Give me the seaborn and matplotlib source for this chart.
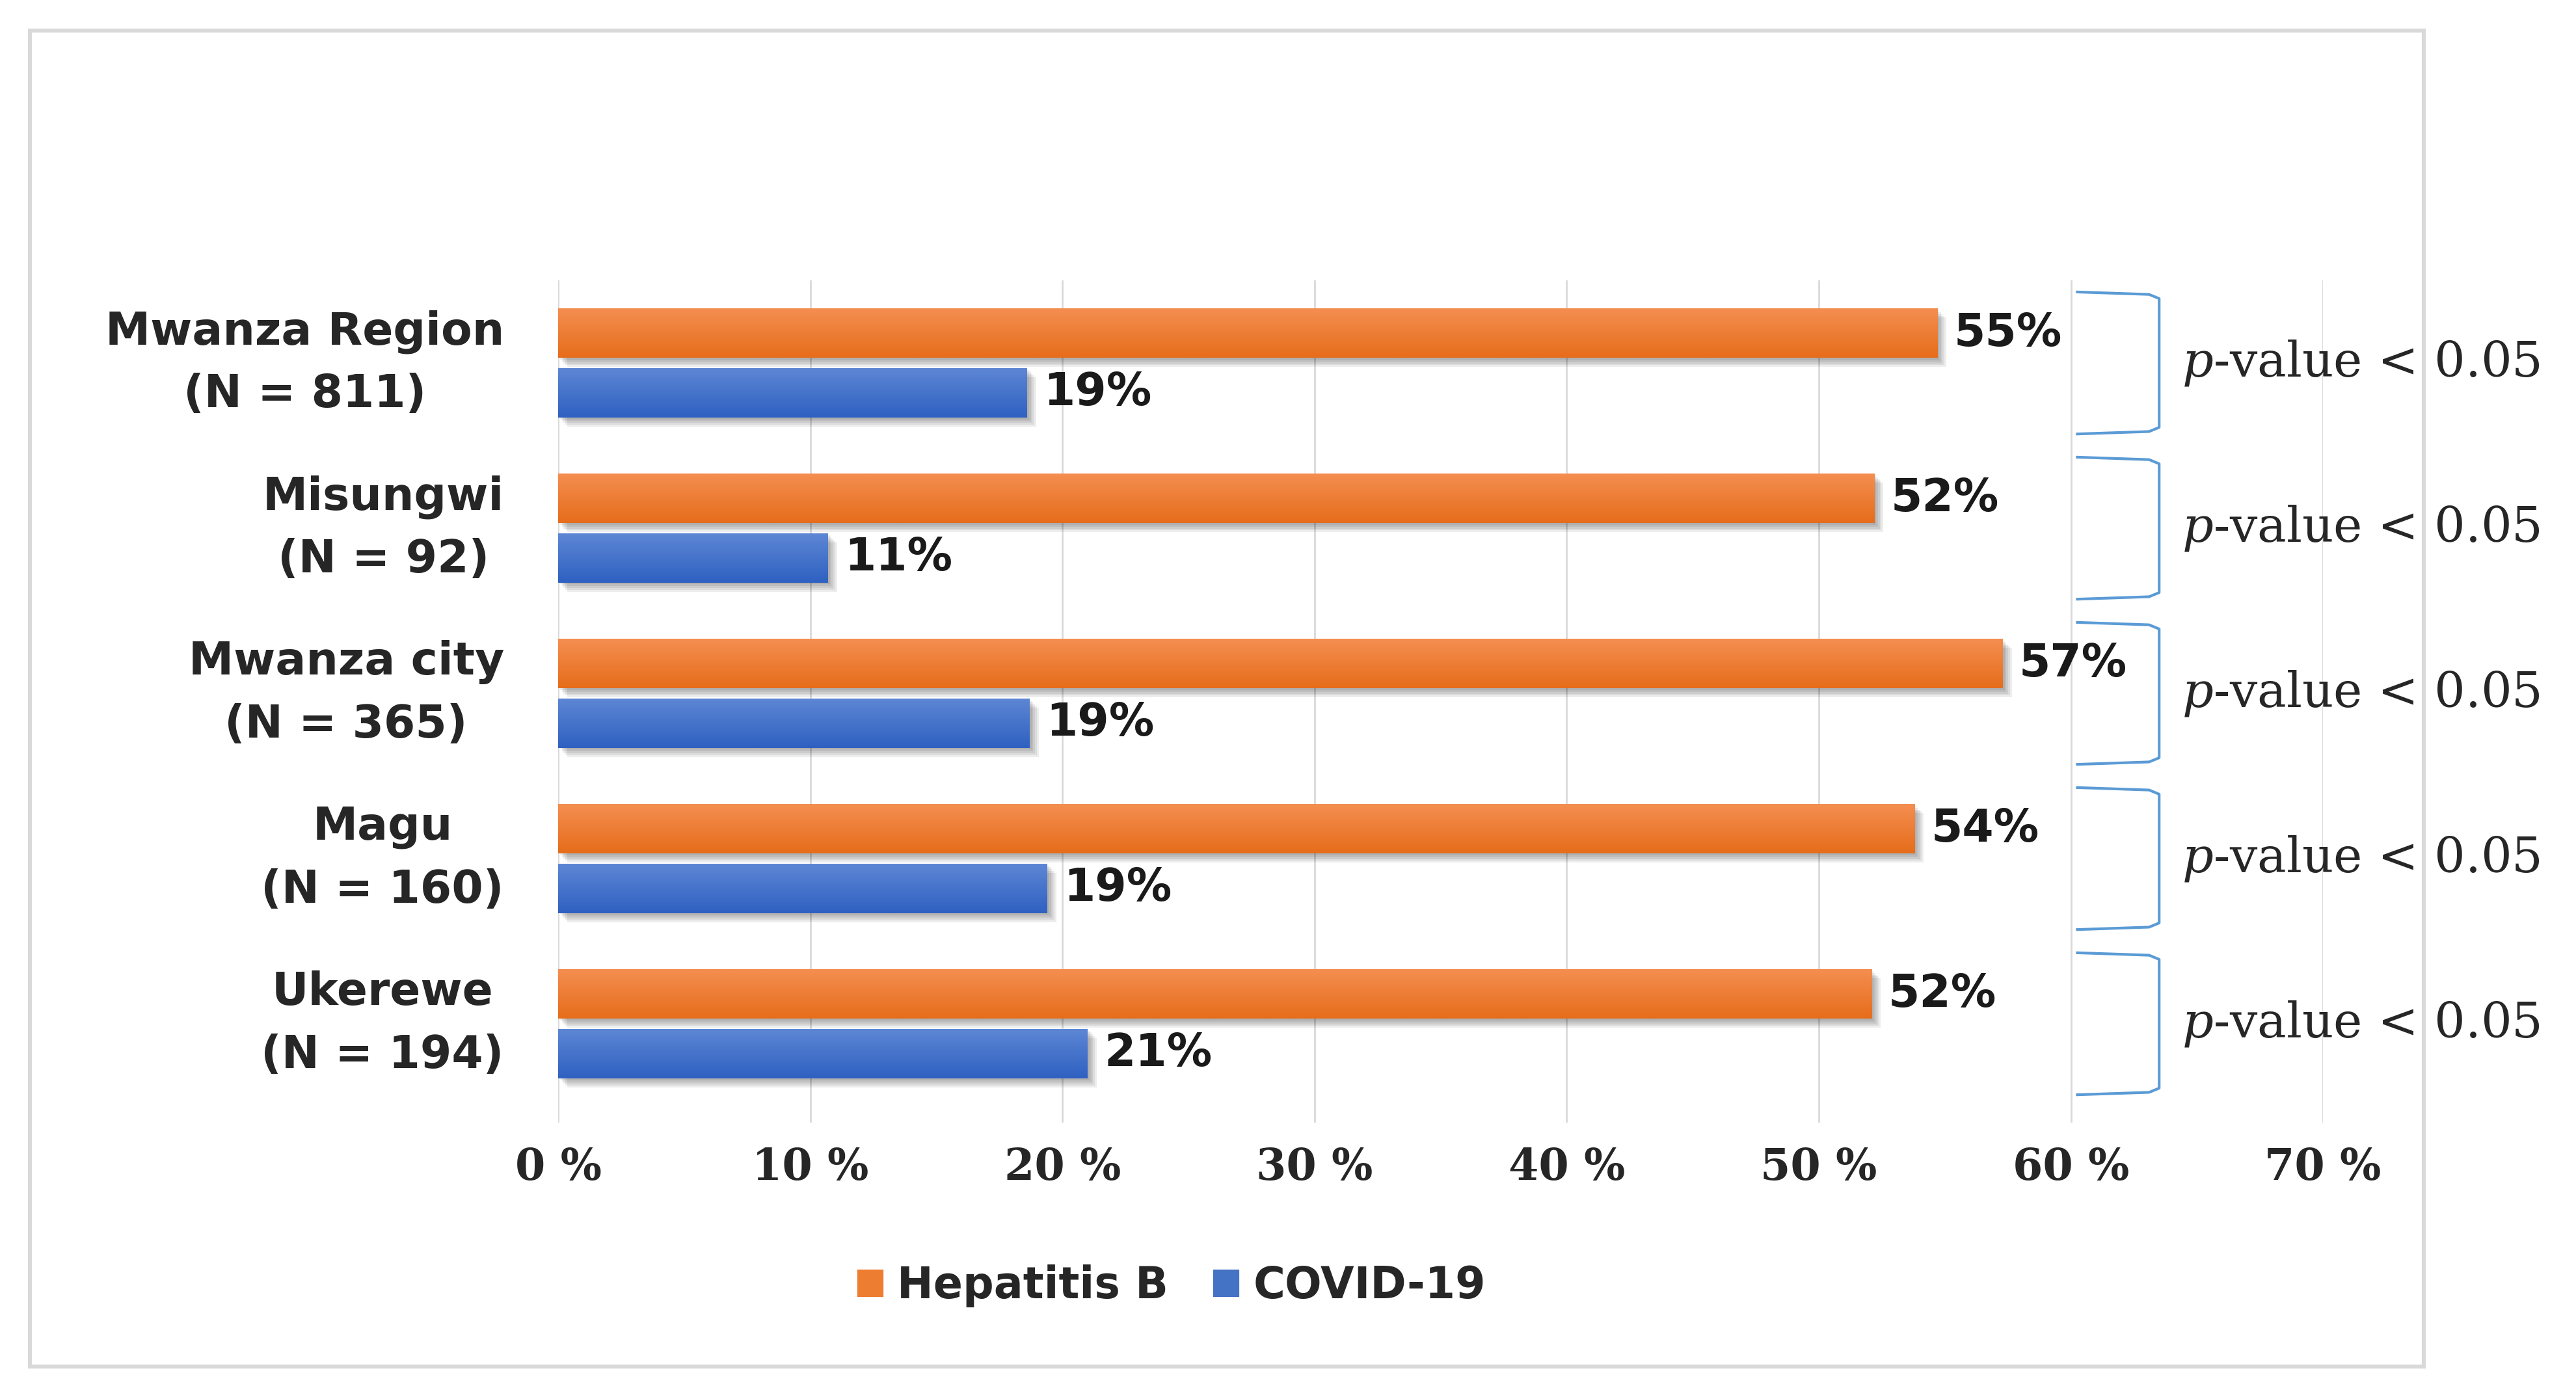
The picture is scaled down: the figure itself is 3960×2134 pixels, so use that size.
import numpy as np
import pandas as pd
import matplotlib
matplotlib.use("Agg")
import matplotlib.pyplot as plt
import matplotlib.patheffects as pe
from matplotlib.patches import Rectangle, PathPatch, Patch
from matplotlib.path import Path
from matplotlib.colors import LinearSegmentedColormap
import seaborn as sns

# values (bar lengths, labels are rounded)
areas = ["Mwanza Region\n(N = 811)", "Misungwi\n(N = 92)", "Mwanza city\n(N = 365)",
         "Magu\n(N = 160)", "Ukerewe\n(N = 194)"]
hepatitis_b = [54.7, 52.2, 57.3, 53.8, 52.1]
covid_19 = [18.6, 10.7, 18.7, 19.4, 21.0]
series = ["Hepatitis B", "COVID-19"]
xticks = [0, 10, 20, 30, 40, 50, 60, 70]
p_text = r"$p$-value < 0.05"

df = pd.DataFrame({
    "area": areas * 2,
    "value": hepatitis_b + covid_19,
    "disease": [series[0]] * len(areas) + [series[1]] * len(areas),
})

orange = "#ED7D31"
blue = "#4472C4"
grad = {
    series[0]: LinearSegmentedColormap.from_list("o", ["#F48E50", "#E66D1B"]),
    series[1]: LinearSegmentedColormap.from_list("b", ["#5D86D4", "#2F61C2"]),
}

sns.set_style("white")
plt.rcParams["font.family"] = ["DejaVu Sans"]
plt.rcParams["mathtext.fontset"] = "dejavuserif"

fig = plt.figure(figsize=(19.8, 10.67), dpi=200)
ax = fig.add_axes([0.2167, 0.191, 0.9018 - 0.2167, 0.798 - 0.191])

sns.barplot(data=df, y="area", x="value", hue="disease", orient="h",
            palette=[orange, blue], width=0.72, gap=0.17, ax=ax, legend=False,
            zorder=3)

# soft drop shadow under the bars
shadow = [pe.SimplePatchShadow(offset=(k, -k), shadow_rgbFace="k", alpha=0.07)
          for k in (1, 2, 3, 4, 5)] + [pe.Normal()]
for name, cont in zip(series, ax.containers):
    for bar in cont:
        bar.set_path_effects(shadow)
        bar.set_edgecolor("none")
        x0, y0 = bar.get_x(), bar.get_y()
        w, h = bar.get_width(), bar.get_height()
        g = np.linspace(0, 1, 64).reshape(-1, 1)
        im = ax.imshow(g, cmap=grad[name], aspect="auto",
                       extent=[x0, x0 + w, y0 + h, y0], origin="upper", zorder=4)
        im.set_clip_path(bar)
    vals = [b.get_width() for b in cont]
    ax.bar_label(cont, labels=[f"{v:.0f}%" for v in vals], padding=9,
                 fontsize=25, fontweight="bold", color="#1a1a1a", zorder=6)

ax.set_xlim(0, 70)
ax.set_ylim(4.6, -0.5)
ax.set_xticks(xticks)
ax.set_xticklabels([f"{t} %" for t in xticks], fontsize=24, fontweight="bold",
                   family="DejaVu Serif")
ax.tick_params(axis="x", length=0, pad=13)
ax.tick_params(axis="y", length=0, pad=30, labelsize=25)
for t in ax.get_yticklabels():
    t.set_fontweight("bold")
    t.set_multialignment("center")
    t.set_linespacing(1.55)
    t.set_verticalalignment("center")
ax.set_xlabel("")
ax.set_ylabel("")
ax.grid(axis="x", color="#D9D9D9", lw=1.0, zorder=0)
ax.set_axisbelow(True)
for s in ax.spines.values():
    s.set_visible(False)

# brackets and p-value notes
for i in range(len(areas)):
    top, bot = i - 0.43, i + 0.43
    verts = [(60.2, top), (63.1, top + 0.015), (63.5, top + 0.04),
             (63.5, bot - 0.04),
             (63.1, bot - 0.015), (60.2, bot)]
    codes = [Path.MOVETO, Path.LINETO, Path.LINETO, Path.LINETO, Path.LINETO, Path.LINETO]
    ax.add_patch(PathPatch(Path(verts, codes), fill=False, edgecolor="#5B9BD5",
                           lw=1.5, clip_on=False, zorder=5, joinstyle="round"))
    ax.text(64.4, i, p_text, ha="left", va="center", fontsize=27,
            family="DejaVu Serif", clip_on=False)

handles = [Patch(facecolor=orange, label=series[0]), Patch(facecolor=blue, label=series[1])]
fig.legend(handles=handles, loc="center", bbox_to_anchor=(0.4545, 0.0735), ncol=2,
           frameon=False, handlelength=0.65, handleheight=0.65, handletextpad=0.3,
           columnspacing=1.0, prop={"size": 24, "weight": "bold"})

fig.patches.append(Rectangle((0.0116, 0.0155), 0.9294, 0.9625, transform=fig.transFigure,
                             fill=False, edgecolor="#D9D9D9", lw=2.2))

fig.savefig("out.png", dpi=200, facecolor="white")
